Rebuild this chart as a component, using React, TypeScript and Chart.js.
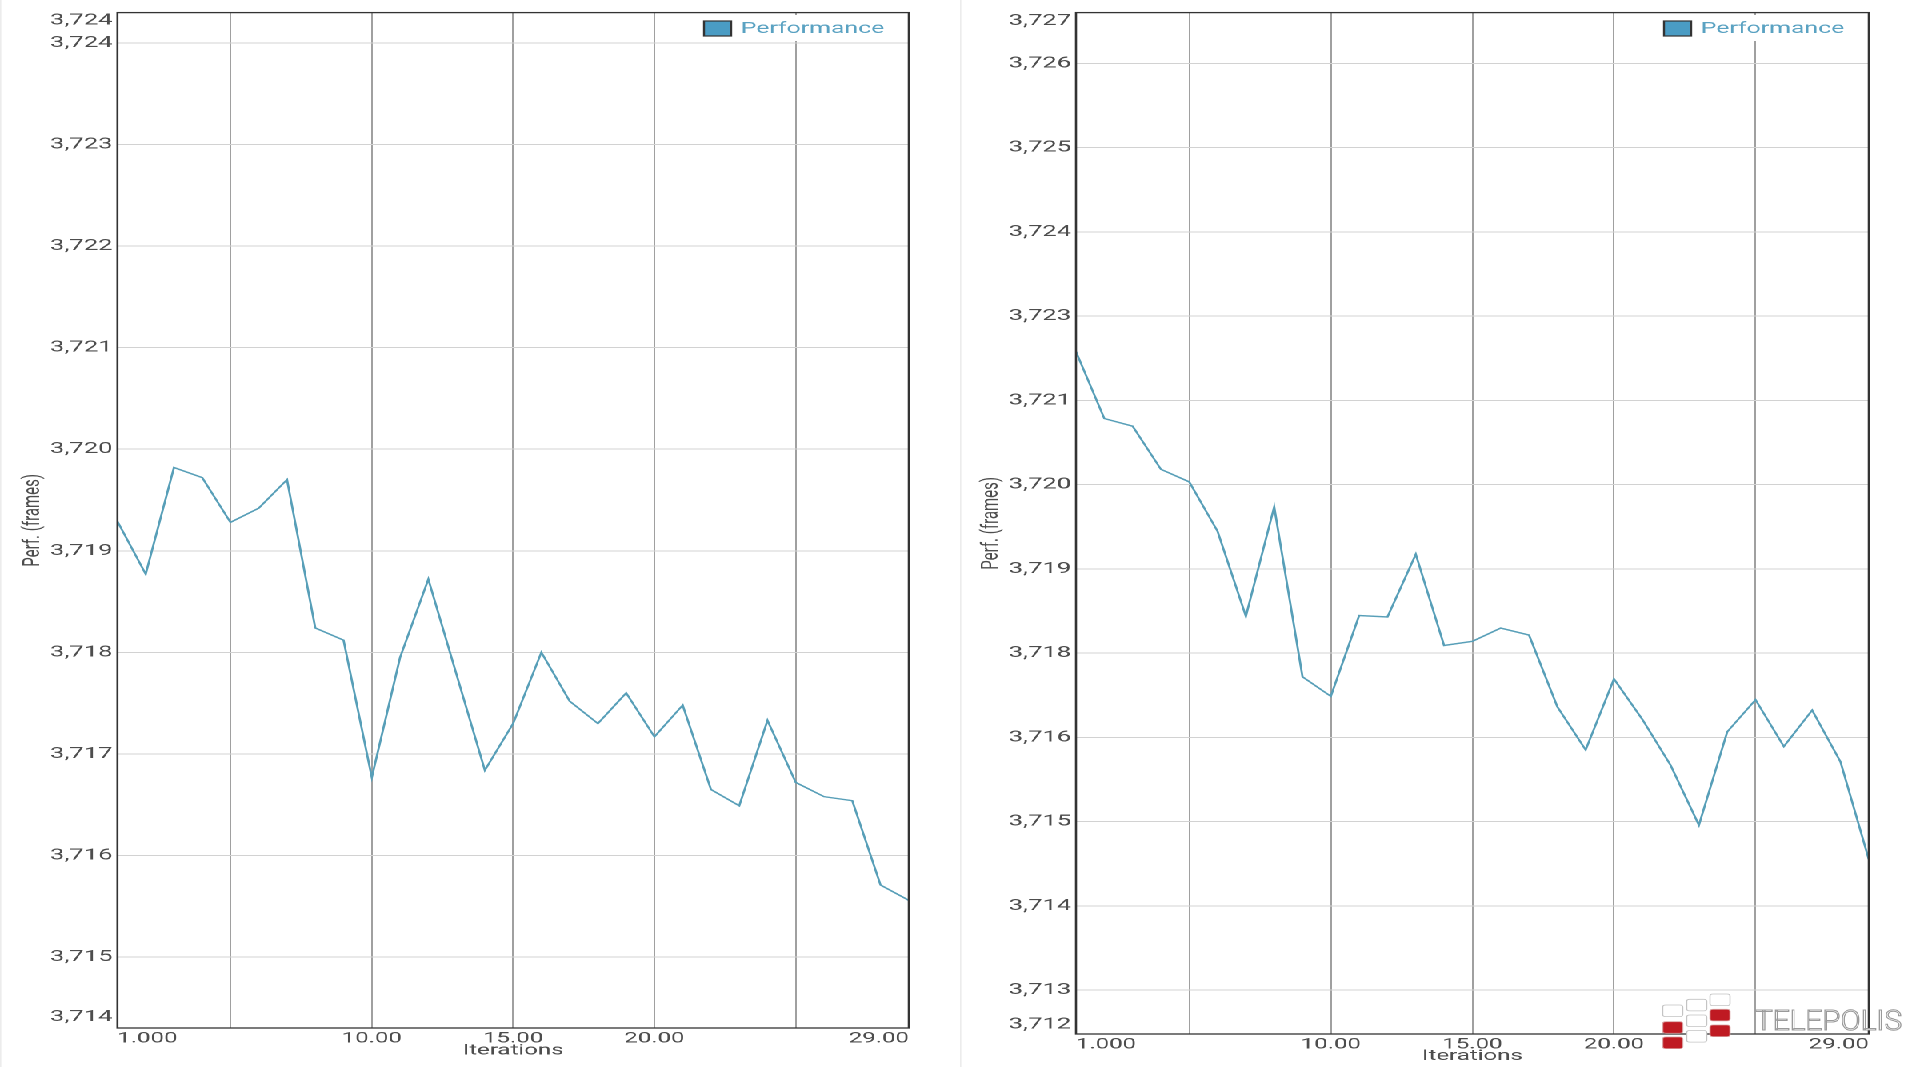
import React, { useEffect, useRef } from "react";
import { Chart, registerables } from "chart.js";

Chart.register(...registerables);

// ---------------- data ----------------
const iterations = [1, 2, 3, 4, 5, 6, 7, 8, 9, 10, 11, 12, 13, 14, 15, 16, 17, 18, 19, 20, 21, 22, 23, 24, 25, 26, 27, 28, 29];

const leftPerf = [
  3.71929, 3.71877, 3.71982, 3.71972, 3.71928, 3.71942, 3.7197, 3.71824, 3.71812, 3.71677,
  3.71795, 3.71872, 3.71778, 3.71684, 3.7173, 3.718, 3.71752, 3.7173, 3.7176, 3.71717,
  3.71748, 3.71665, 3.71649, 3.71733, 3.71672, 3.71658, 3.71654, 3.71571, 3.71556,
];

const rightPerf = [
  3.72203, 3.72107, 3.72096, 3.72034, 3.72016, 3.71945, 3.71823, 3.7198, 3.71736, 3.71708,
  3.71824, 3.71822, 3.71912, 3.71781, 3.71787, 3.71806, 3.71796, 3.71693, 3.71631, 3.71733,
  3.71675, 3.71609, 3.71523, 3.71657, 3.71703, 3.71636, 3.71688, 3.71614, 3.71474,
];

const xTickValues = [1, 5, 10, 15, 20, 25, 29];
const xTickLabels = ["1.000", "", "10.00", "15.00", "20.00", "", "29.00"];

const leftYTicks = [3.715, 3.716, 3.717, 3.718, 3.719, 3.72, 3.721, 3.722, 3.723, 3.724];
const leftYRange = [3.714303, 3.724297];

const rightYTicks = [3.71286, 3.71407, 3.71528, 3.71649, 3.7177, 3.71891, 3.72012, 3.72133, 3.72254, 3.72375, 3.72496, 3.72617];
const rightYRange = [3.71223, 3.7269];

const seriesLabel = "Performance";
const xTitle = "Iterations";
const yTitle = "Perf. (frames)";
const watermarkText = "TELEPOLIS";

// ---------------- style ----------------
const STRETCH = 1.6;
const FONT = "Roboto, 'Noto Sans', sans-serif";
const TEXT_COLOR = "#4d4d4d";
const LINE_COLOR = "#589fb8";
const LEGEND_TEXT = "#5aa2c2";
const LEGEND_BOX = "#4a9cc4";
const X_LABEL_INSET = 1.06;

type Opts = {
  values: number[];
  yTicks: number[];
  yRange: number[];
  insetTop: number;
  insetBottom: number;
  yAxisWidth: number;
  xAxisHeight: number;
  xTitlePadBottom: number;
  xTickPad: number;
  yTitlePadTop: number;
  watermark: boolean;
  left: number;
};

function rr(ctx: CanvasRenderingContext2D, x: number, y: number, w: number, h: number, r: number) {
  ctx.beginPath();
  ctx.moveTo(x + r, y);
  ctx.lineTo(x + w - r, y);
  ctx.quadraticCurveTo(x + w, y, x + w, y + r);
  ctx.lineTo(x + w, y + h - r);
  ctx.quadraticCurveTo(x + w, y + h, x + w - r, y + h);
  ctx.lineTo(x + r, y + h);
  ctx.quadraticCurveTo(x, y + h, x, y + h - r);
  ctx.lineTo(x, y + r);
  ctx.quadraticCurveTo(x, y, x + r, y);
  ctx.closePath();
}

function drawWatermark(ctx: CanvasRenderingContext2D) {
  const u = (fx: number) => (fx - 960) / STRETCH;
  const w = 12.5;
  const h = 11.6;
  const whites: [number, number][] = [
    [u(1662.7), 1005],
    [u(1686.7), 999.3],
    [u(1686.7), 1015],
    [u(1686.7), 1030.5],
    [u(1710), 994],
  ];
  const reds: [number, number][] = [
    [u(1662.7), 1021.7],
    [u(1662.7), 1037],
    [u(1710), 1009.3],
    [u(1710), 1025],
  ];
  ctx.save();
  ctx.lineWidth = 0.8;
  for (const [x, y] of whites) {
    rr(ctx, x, y, w, h, 2);
    ctx.fillStyle = "#ffffff";
    ctx.fill();
    ctx.strokeStyle = "#c4c4c4";
    ctx.stroke();
  }
  for (const [x, y] of reds) {
    rr(ctx, x, y, w, h, 2);
    ctx.fillStyle = "#bf1a22";
    ctx.fill();
    ctx.strokeStyle = "#d9a0a0";
    ctx.stroke();
  }
  ctx.font = `300 28px ${FONT}`;
  ctx.textAlign = "left";
  ctx.textBaseline = "alphabetic";
  ctx.fillStyle = "#ffffff";
  ctx.strokeStyle = "#9a9a9a";
  ctx.lineWidth = 1;
  const tx = u(1755);
  const maxW = u(1902) - tx;
  ctx.fillText(watermarkText, tx, 1030, maxW);
  ctx.strokeText(watermarkText, tx, 1030, maxW);
  ctx.restore();
}

function makeConfig(o: Opts): any {
  const decor = {
    id: "decor",
    afterDraw(chart: any) {
      const { ctx, chartArea } = chart;
      const { left, right, top, bottom } = chartArea;
      ctx.save();
      // faint panel separator
      ctx.fillStyle = "#ececec";
      ctx.fillRect(0, 0, 0.8, chart.height);
      // frame
      ctx.strokeStyle = "#333333";
      ctx.lineWidth = 1.3;
      ctx.strokeRect(left, top, right - left, bottom - top);
      // legend
      ctx.fillStyle = "#ffffff";
      ctx.fillRect(right - 134, 15, 129, 26);
      ctx.fillStyle = LEGEND_BOX;
      ctx.fillRect(right - 128, 21, 17, 15);
      ctx.strokeStyle = "#333333";
      ctx.lineWidth = 1.2;
      ctx.strokeRect(right - 128, 21, 17, 15);
      ctx.font = `15.5px ${FONT}`;
      ctx.fillStyle = LEGEND_TEXT;
      ctx.textAlign = "left";
      ctx.textBaseline = "middle";
      ctx.fillText(chart.data.datasets[0].label, right - 105, 29);
      ctx.restore();
      if (o.watermark) drawWatermark(ctx);
    },
  };

  const nY = o.yTicks.length + 2;
  const nX = xTickValues.length;

  return {
    type: "line",
    data: {
      datasets: [
        {
          label: seriesLabel,
          data: iterations.map((x, i) => ({ x, y: o.values[i] })),
          borderColor: LINE_COLOR,
          backgroundColor: LINE_COLOR,
          borderWidth: 1.4,
          pointRadius: 0,
          pointHoverRadius: 0,
          tension: 0,
          fill: false,
        },
      ],
    },
    options: {
      animation: false,
      responsive: true,
      maintainAspectRatio: false,
      devicePixelRatio: 2,
      layout: { padding: { left: 0, right: 32, top: 10, bottom: 0 } },
      plugins: { legend: { display: false }, tooltip: { enabled: false } },
      events: [],
      scales: {
        x: {
          type: "linear",
          min: iterations[0],
          max: iterations[iterations.length - 1],
          bounds: "data",
          afterBuildTicks: (scale: any) => {
            scale.ticks = xTickValues.map((v, i) => ({
              value: i === 0 ? v + X_LABEL_INSET : i === nX - 1 ? v - X_LABEL_INSET : v,
            }));
          },
          afterFit: (scale: any) => {
            scale.height = o.xAxisHeight;
          },
          grid: {
            drawTicks: false,
            lineWidth: 1,
            color: (c: any) => (c.index === 0 || c.index === nX - 1 ? "rgba(0,0,0,0)" : "#a0a0a0"),
          },
          border: { display: false },
          ticks: {
            autoSkip: false,
            maxRotation: 0,
            minRotation: 0,
            padding: o.xTickPad,
            color: TEXT_COLOR,
            font: { family: FONT, size: 15 },
            callback: (_v: any, i: number) => xTickLabels[i],
          },
          title: {
            display: true,
            text: xTitle,
            color: TEXT_COLOR,
            font: { family: FONT, size: 15 },
            padding: { top: 0, bottom: o.xTitlePadBottom },
          },
        },
        y: {
          type: "linear",
          min: o.yRange[0],
          max: o.yRange[1],
          bounds: "data",
          afterBuildTicks: (scale: any) => {
            scale.ticks = [
              { value: o.yRange[0] + o.insetBottom },
              ...o.yTicks.map((v) => ({ value: v })),
              { value: o.yRange[1] - o.insetTop },
            ];
          },
          afterFit: (scale: any) => {
            scale.width = o.yAxisWidth;
          },
          grid: {
            drawTicks: false,
            lineWidth: 1,
            color: (c: any) => (c.index === 0 || c.index === nY - 1 ? "rgba(0,0,0,0)" : "#d2d2d2"),
          },
          border: { display: false },
          ticks: {
            autoSkip: false,
            padding: 3,
            color: TEXT_COLOR,
            font: { family: FONT, size: 16 },
            callback: (v: any) => Number(v).toFixed(3).replace(".", ","),
          },
          title: {
            display: true,
            text: yTitle,
            color: TEXT_COLOR,
            font: { family: FONT, size: 15 },
            padding: { top: o.yTitlePadTop, bottom: 0 },
          },
        },
      },
    },
    plugins: [decor],
  };
}

function PerfChart(props: { opts: Opts }) {
  const ref = useRef<HTMLCanvasElement | null>(null);
  useEffect(() => {
    if (!ref.current) return;
    const chart = new Chart(ref.current, makeConfig(props.opts));
    return () => chart.destroy();
  }, []);
  return (
    <div style={{ position: "absolute", left: props.opts.left, top: 0, width: 600, height: 1067 }}>
      <canvas ref={ref} />
    </div>
  );
}

const leftOpts: Opts = {
  values: leftPerf,
  yTicks: leftYTicks,
  yRange: leftYRange,
  insetTop: 0.00008,
  insetBottom: 0.00011,
  yAxisWidth: 73.4,
  xAxisHeight: 39,
  xTitlePadBottom: 7.5,
  xTickPad: 1.5,
  yTitlePadTop: 11.6,
  watermark: false,
  left: 0,
};

const rightOpts: Opts = {
  values: rightPerf,
  yTicks: rightYTicks,
  yRange: rightYRange,
  insetTop: 0.00012,
  insetBottom: 0.00014,
  yAxisWidth: 72.5,
  xAxisHeight: 33,
  xTitlePadBottom: 2,
  xTickPad: 1.5,
  yTitlePadTop: 10.8,
  watermark: true,
  left: 600,
};

export default function App() {
  return (
    <div
      style={{
        position: "fixed",
        left: 0,
        top: 0,
        width: 1920 / STRETCH,
        height: 1067,
        transform: `scaleX(${STRETCH})`,
        transformOrigin: "0 0",
        background: "#ffffff",
        overflow: "hidden",
      }}
    >
      <PerfChart opts={leftOpts} />
      <PerfChart opts={rightOpts} />
    </div>
  );
}
